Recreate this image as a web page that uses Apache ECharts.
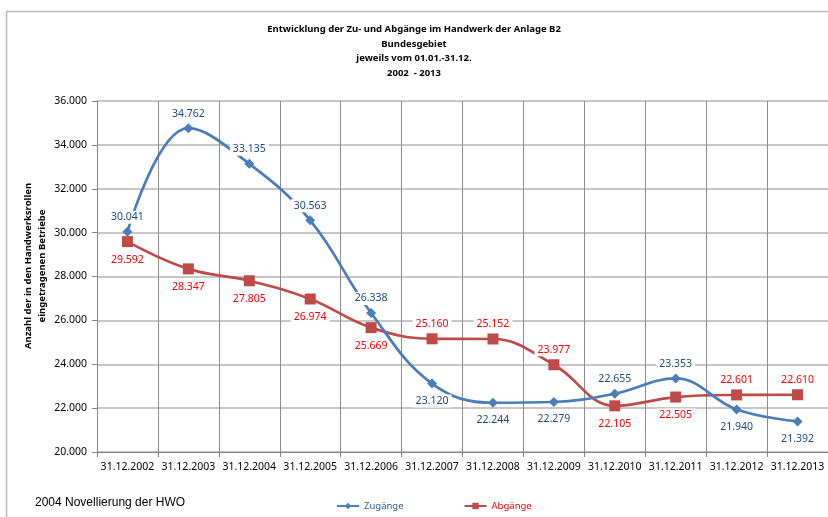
<!DOCTYPE html>
<html>
<head>
<meta charset="utf-8">
<script src="https://cdn.jsdelivr.net/npm/echarts@6/dist/echarts.min.js"></script>
<style>html,body{margin:0;padding:0;background:#fff;}#c{width:828px;height:517px;}</style>
</head>
<body>
<div id="c"></div>
<script>
const categories = ['31.12.2002','31.12.2003','31.12.2004','31.12.2005','31.12.2006','31.12.2007','31.12.2008','31.12.2009','31.12.2010','31.12.2011','31.12.2012','31.12.2013'];
const zugaenge = [30041, 34762, 33135, 30563, 26338, 23120, 22244, 22279, 22655, 23353, 21940, 21392];
const abgaenge = [29592, 28347, 27805, 26974, 25669, 25160, 25152, 23977, 22105, 22505, 22601, 22610];
const yTicks = [20000, 22000, 24000, 26000, 28000, 30000, 32000, 34000, 36000];
const zugLabelPos = ['top','top','top','top','top','bottom','bottom','bottom','top','top','bottom','bottom'];
const abgLabelPos = ['bottom','bottom','bottom','bottom','bottom','top','top','top','bottom','bottom','top','top'];

function fmt(v){ return String(v).replace(/\B(?=(\d{3})+(?!\d))/g, '.'); }
const FONT = "'Noto Sans', 'Open Sans', sans-serif";

const chart = echarts.init(document.getElementById('c'), null, {renderer:'canvas'});
function mk(vals, pos){
  return vals.map((v,i)=>({value:v, label:{position:pos[i], distance: pos[i]==='top' ? 3 : 6}}));
}
chart.setOption({
  animation:false,
  backgroundColor:'#fff',
  textStyle:{fontFamily:FONT},
  title:{
    text:'Entwicklung der Zu- und Abgänge im Handwerk der Anlage B2\nBundesgebiet\njeweils vom 01.01.-31.12.\n2002  - 2013',
    left:'center', top:17,
    textStyle:{fontSize:9.5, fontWeight:'bold', color:'#000', lineHeight:14.6, fontFamily:FONT}
  },
  graphic:[
    {type:'rect', shape:{x:6.5, y:11.5, width:900, height:600}, style:{fill:'none', stroke:'#b8b8b8', lineWidth:1.5}, z:-1},
    {type:'text', x:35, y:266, rotation:Math.PI/2, style:{text:'Anzahl der in den Handwerksrollen\neingetragenen Betriebe', fontSize:9.5, fontWeight:'bold', fill:'#000', align:'center', verticalAlign:'middle', lineHeight:14, fontFamily:FONT}},
    {type:'text', left:35, top:497, style:{text:'2004 Novellierung der HWO', fontSize:12, fill:'#000', fontFamily:"'Liberation Sans', Arial, sans-serif"}}
  ],
  legend:{
    left:331, top:496, itemWidth:22, itemHeight:8, itemGap:60,
    data:[
      {name:'Zugänge', textStyle:{color:'#2F5597'}},
      {name:'Abgänge', textStyle:{color:'#FF0000'}}
    ],
    textStyle:{fontSize:9.5, fontFamily:FONT}
  },
  grid:{left:97, top:101, width:732, height:351, containLabel:false},
  xAxis:{
    type:'category', data:categories, boundaryGap:true,
    axisLine:{lineStyle:{color:'#868686', width:1}},
    axisTick:{show:true, length:5, lineStyle:{color:'#868686'}, alignWithLabel:false},
    axisLabel:{color:'#000', fontSize:10.5, margin:10, interval:0, fontFamily:FONT},
    splitLine:{show:true, interval:0, lineStyle:{color:'#8c8c8c', width:1}}
  },
  yAxis:{
    type:'value', min:20000, max:36000, interval:2000,
    axisLine:{show:true, lineStyle:{color:'#868686'}},
    axisTick:{show:true, length:5, lineStyle:{color:'#868686'}},
    axisLabel:{color:'#000', fontSize:10.5, margin:10, formatter:v=>fmt(v), fontFamily:FONT},
    splitLine:{show:true, lineStyle:{color:'#b4b4b4', width:1.5}}
  },
  series:[
    {
      name:'Zugänge', type:'line', smooth:0.4, data:mk(zugaenge, zugLabelPos),
      symbol:'diamond', symbolSize:10,
      itemStyle:{color:'#4A7EBB'}, lineStyle:{color:'#4A7EBB', width:2.7},
      label:{show:true, formatter:p=>fmt(p.value), color:'#1F497D', fontSize:10.5, backgroundColor:'#fff', padding:[1,3], fontFamily:FONT},
      z:3
    },
    {
      name:'Abgänge', type:'line', smooth:0.4, data:mk(abgaenge, abgLabelPos),
      symbol:'rect', symbolSize:11,
      itemStyle:{color:'#BE4B48'}, lineStyle:{color:'#BE4B48', width:2.7},
      label:{show:true, formatter:p=>fmt(p.value), color:'#FF0000', fontSize:10.5, backgroundColor:'#fff', padding:[1,3], fontFamily:FONT},
      z:2
    }
  ]
});
</script>
</body>
</html>
